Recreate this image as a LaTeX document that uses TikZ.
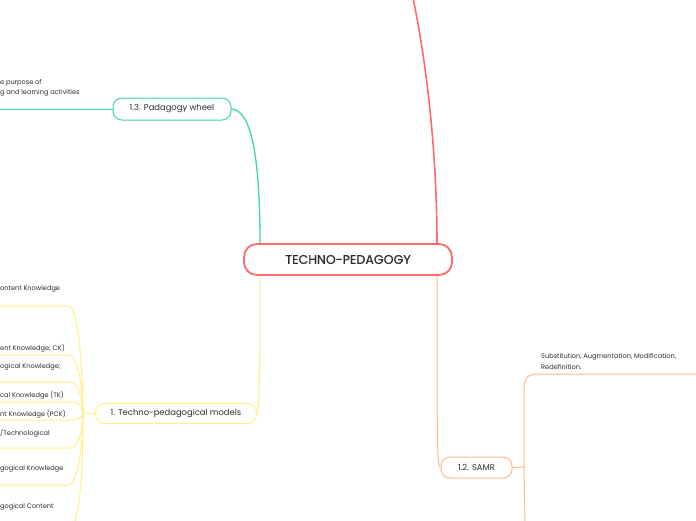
\documentclass[tikz,border=0pt]{standalone}
\usepackage{fontspec}
\setmainfont{Poppins}
\newfontfamily\centralfont{Poppins}[FakeBold=0.4]
\usetikzlibrary{calc}
\definecolor{cred}{HTML}{FF6B6B}
\definecolor{cgreen}{HTML}{3DD9A2}
\definecolor{cyel}{HTML}{FFF08A}
\definecolor{corange}{HTML}{FFBA88}
\definecolor{ctext}{HTML}{2E2E2E}
\tikzset{
  topic/.style={draw, fill=white, rounded corners=9pt, line width=1pt, text=ctext, font=\fontsize{8.4}{9}\selectfont, inner sep=0pt},
  central/.style={draw=cred, fill=white, rounded corners=13pt, line width=1.8pt, text=ctext, font=\centralfont\fontsize{12.6}{14}\selectfont, inner sep=0pt, minimum width=208pt, minimum height=31pt},
  leaf/.style={anchor=west, inner sep=0pt, text=ctext, font=\fontsize{6.6}{7}\selectfont},
  conn/.style={line width=1pt},
}
\begin{document}
\begin{tikzpicture}[x=1pt,y=-1pt]
\useasboundingbox (0,0) rectangle (696,520);
\clip (0,0) rectangle (696,520);
\fill[white] (0,0) rectangle (696,520);

% nodes
\node[central] (c) at (348,259.5) {TECHNO-PEDAGOGY};
\node[topic, draw=cgreen, minimum width=118pt, minimum height=22pt] (pw) at (172,109) {1.3. Padagogy wheel};
\node[topic, draw=cyel, minimum width=161pt, minimum height=20pt] (tpm) at (176,413.5) {1. Techno-pedagogical models};
\node[topic, draw=corange, minimum width=71pt, minimum height=21pt] (samr) at (476.5,467.5) {1.2. SAMR};

% coordinates
\coordinate (topend) at (413,-2);
\coordinate (pwend) at (-2,109);
\coordinate (yj) at (83,413);
\coordinate (sj) at (524,467);
\coordinate (sup) at (696,374);
\coordinate (sdown) at (525,522);

% main connectors
\draw[conn, cred, line width=1.6pt] ([xshift=89pt]c.north) .. controls (437,160) and (428,70) .. (topend);
\draw[conn, cgreen, line width=1.3pt] ([xshift=-88pt]c.north) .. controls (260,160) and (252,110) .. (pw.east);
\draw[conn, cgreen] (pw.west) -- (pwend);
\draw[conn, cyel] ([xshift=-88pt]c.south) .. controls (260,385) and (259,410) .. (tpm.east);
\draw[conn, corange] ([xshift=89pt]c.south) .. controls (437,445) and (437,467) .. (samr.west);

% SAMR branches
\draw[conn, corange] (samr.east) -- (sj);
\draw[conn, corange] (sj) -- (524,392) .. controls (524,377) and (527,374) .. (540,374) -- (sup);
\draw[conn, corange] (sj) -- (sdown);

% yellow branches
\draw[conn, cyel] (tpm.west) -- (yj);
\foreach \yy/\xe in {306/68, 355/68, 382/70, 402/73, 420/73, 448/71, 485/68}{
  \draw[conn, cyel] (yj) .. controls (83,{413+0.25*(\yy-413)}) and (80,\yy) .. (\xe,\yy) -- (-2,\yy);
}
\draw[conn, cyel] (yj) .. controls (83,470) and (81,520) .. (66,545);

% texts
\node[leaf] (t1) at (0,83) {e purpose of};
\node[leaf] (t2) at (0,93) {g and learning activities};
\node[leaf] (s1) at (541,357) {Substitution, Augmentation, Modification,};
\node[leaf] (s2) at (541,367) {Redefinition.};
\node[leaf] (y1) at (0,289) {ontent Knowledge};
\node[leaf] (y2) at (0,348) {ent Knowledge; CK)};
\node[leaf] (y3) at (0,367) {ogical Knowledge;};
\node[leaf] (y4) at (0,395) {cal Knowledge (TK)};
\node[leaf] (y5) at (0,414) {nt Knowledge (PCK)};
\node[leaf] (y6) at (0,433) {/Technological};
\node[leaf] (y7) at (0,469) {gogical Knowledge};
\node[leaf] (y8) at (0,507) {gogical Content};
\end{tikzpicture}
\end{document}
